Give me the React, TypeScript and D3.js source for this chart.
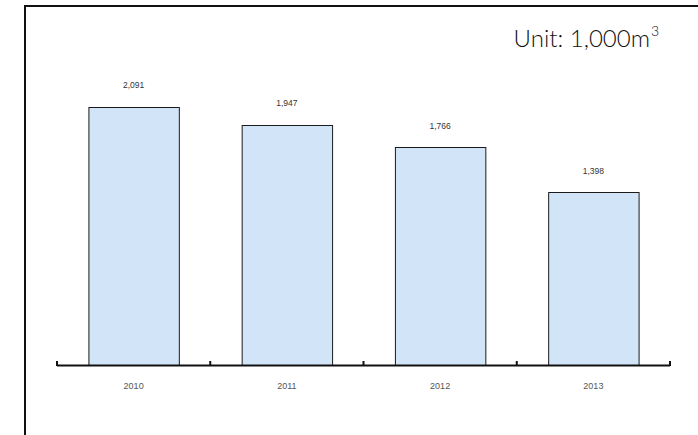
import React from "react";
import * as d3 from "d3";

const years: string[] = ["2010", "2011", "2012", "2013"];
const values: number[] = [2091, 1947, 1766, 1398];
const unitText = "Unit: 1,000m";
const unitSup = "3";

const W = 698;
const H = 435;

export default function App() {
  const x = d3.scaleBand<string>().domain(years).range([57, 670]).paddingInner(0.41).paddingOuter(0.205);
  const axisBand = d3.scaleBand<string>().domain(years).range([57, 670]).padding(0);
  const y = d3.scaleLinear().domain([0, 2500]).range([365, 365 - 2500 * 0.1234]);
  const fmt = d3.format(",");
  const tickPositions = [...years.map((yr) => axisBand(yr) as number), 670];

  return (
    <svg width={W} height={H} style={{ position: "absolute", left: 0, top: 0 }}>
      <rect x={0} y={0} width={W} height={H} fill="#fff" />
      <path d={`M25,${H + 5} L25,6 L${W + 5},6`} fill="none" stroke="#111" strokeWidth={2} />
      {years.map((yr, i) => (
        <g key={yr}>
          <rect
            x={(x(yr) as number) + 0.5}
            y={Math.round(y(values[i])) + 0.5}
            width={x.bandwidth()}
            height={365 - Math.round(y(values[i]))}
            fill="#d2e5f8"
            stroke="#1a1a1a"
            strokeWidth={1}
          />
          <text
            x={(x(yr) as number) + x.bandwidth() / 2}
            y={y(values[i]) - 18.5}
            textAnchor="middle"
            fontFamily="Liberation Sans, Arial, sans-serif"
            fontSize={8.5}
            fill="#333"
          >
            {fmt(values[i])}
          </text>
          <text
            x={(axisBand(yr) as number) + axisBand.bandwidth() / 2}
            y={389}
            textAnchor="middle"
            fontFamily="Liberation Sans, Arial, sans-serif"
            fontSize={9}
            fill="#555"
          >
            {yr}
          </text>
        </g>
      ))}
      <line x1={57} x2={670} y1={365.5} y2={365.5} stroke="#111" strokeWidth={2} />
      {tickPositions.map((tx, i) => (
        <line key={i} x1={tx} x2={tx} y1={366} y2={361} stroke="#111" strokeWidth={2} />
      ))}
      <text x={650} y={47} textAnchor="end" fontFamily="Lato, 'Open Sans', sans-serif" fontWeight={300} fontSize={24} fill="#111">
        {unitText}
      </text>
      <text x={651} y={36} fontFamily="Lato, 'Open Sans', sans-serif" fontWeight={300} fontSize={14} fill="#111">
        {unitSup}
      </text>
    </svg>
  );
}
